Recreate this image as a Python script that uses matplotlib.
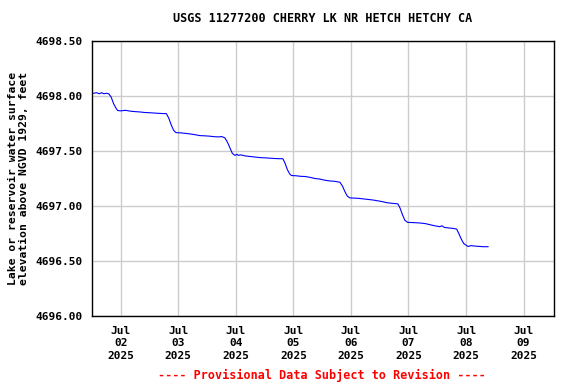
import matplotlib
matplotlib.use("Agg")
import matplotlib.pyplot as plt
import matplotlib.dates as mdates
import numpy as np
import pandas as pd

# hours since 2025-07-01 00:00
hours = [12, 14, 15, 16, 17, 18, 19, 20, 21, 22, 22.7,
         24, 26, 28, 30, 32, 34, 36, 38, 40, 42, 43,
         44, 45, 46, 47,
         49, 51, 53, 55, 57, 59, 61, 63, 65, 66, 67.4,
         68.5, 69.5, 70.5, 71, 71.6, 72.5, 73, 74,
         76, 78, 80, 82, 84, 86, 88, 90, 91.6,
         92.5, 93.5, 94.5, 95.2,
         97, 99, 101, 103, 105, 107, 109, 111, 113, 115.4,
         116.5, 117.5, 118.5, 119.5,
         121, 123, 125, 127, 129, 131, 133, 135, 137, 139.6,
         140.5, 141.5, 142.5, 143.7,
         145, 147, 149, 151, 153, 155, 157, 158, 159, 161, 163, 164.1,
         165, 166, 167, 168.3,
         169, 170, 172, 174, 175, 177.2]
values = [4698.023, 4698.030, 4698.020, 4698.030, 4698.020, 4698.025, 4698.020, 4697.990, 4697.930, 4697.890, 4697.868,
          4697.865, 4697.870, 4697.862, 4697.858, 4697.855, 4697.850, 4697.848, 4697.845, 4697.842, 4697.840, 4697.840,
          4697.800, 4697.740, 4697.690, 4697.667,
          4697.665, 4697.660, 4697.655, 4697.648, 4697.640, 4697.638, 4697.635, 4697.630, 4697.628, 4697.632, 4697.620,
          4697.580, 4697.530, 4697.480, 4697.470, 4697.460, 4697.470, 4697.460, 4697.465,
          4697.455, 4697.450, 4697.445, 4697.440, 4697.438, 4697.435, 4697.432, 4697.430, 4697.430,
          4697.390, 4697.330, 4697.290, 4697.277,
          4697.275, 4697.270, 4697.268, 4697.260, 4697.250, 4697.245, 4697.235, 4697.228, 4697.225, 4697.216,
          4697.180, 4697.130, 4697.090, 4697.074,
          4697.072, 4697.070, 4697.065, 4697.060, 4697.055, 4697.048, 4697.040, 4697.030, 4697.025, 4697.019,
          4696.980, 4696.920, 4696.870, 4696.851,
          4696.850, 4696.848, 4696.845, 4696.840, 4696.830, 4696.820, 4696.812, 4696.820, 4696.805, 4696.800, 4696.795, 4696.790,
          4696.750, 4696.700, 4696.660, 4696.639,
          4696.632, 4696.640, 4696.635, 4696.632, 4696.630, 4696.630]

y_ticks = [4696.0, 4696.5, 4697.0, 4697.5, 4698.0, 4698.5]
x_tick_days = ["2025-07-02", "2025-07-03", "2025-07-04", "2025-07-05",
               "2025-07-06", "2025-07-07", "2025-07-08", "2025-07-09"]

base = pd.Timestamp("2025-07-01")
times = [base + pd.Timedelta(hours=h) for h in hours]

font = "DejaVu Sans Mono"
fig = plt.figure(figsize=(5.76, 3.84), dpi=100)
ax = fig.add_axes([92/576, 1-316/384, (554-92)/576, (316-41)/384])
ax.plot(times, values, color="#0000ff", lw=0.8)

ax.set_ylim(4696.0, 4698.5)
ax.set_xlim(base + pd.Timedelta(hours=12), base + pd.Timedelta(hours=204.7))
ax.set_yticks(y_ticks)
ax.set_yticklabels([f"{v:.2f}" for v in y_ticks], fontfamily=font, fontweight="bold", fontsize=8)
xt = [pd.Timestamp(d) for d in x_tick_days]
ax.set_xticks(xt)
ax.set_xticklabels([t.strftime("%b\n%d\n%Y") for t in xt], fontfamily=font, fontweight="bold",
                   fontsize=8, linespacing=1.3)
ax.grid(True, color="#cccccc", lw=1)
ax.set_axisbelow(True)
ax.tick_params(length=0, pad=7)
for s in ax.spines.values():
    s.set_color("black")
    s.set_linewidth(1)

ax.set_ylabel("Lake or reservoir water surface\nelevation above NGVD 1929, feet",
              fontfamily=font, fontweight="bold", fontsize=8.2, labelpad=4, linespacing=1.15)
fig.text(323/576, 1-19/384, "USGS 11277200 CHERRY LK NR HETCH HETCHY CA", ha="center", va="center",
         fontfamily=font, fontweight="bold", fontsize=8.5)
fig.text(322/576, 1-375/384, "---- Provisional Data Subject to Revision ----", ha="center", va="center",
         fontfamily=font, fontweight="bold", fontsize=8.5, color="red")

fig.savefig("out.png", dpi=100)
